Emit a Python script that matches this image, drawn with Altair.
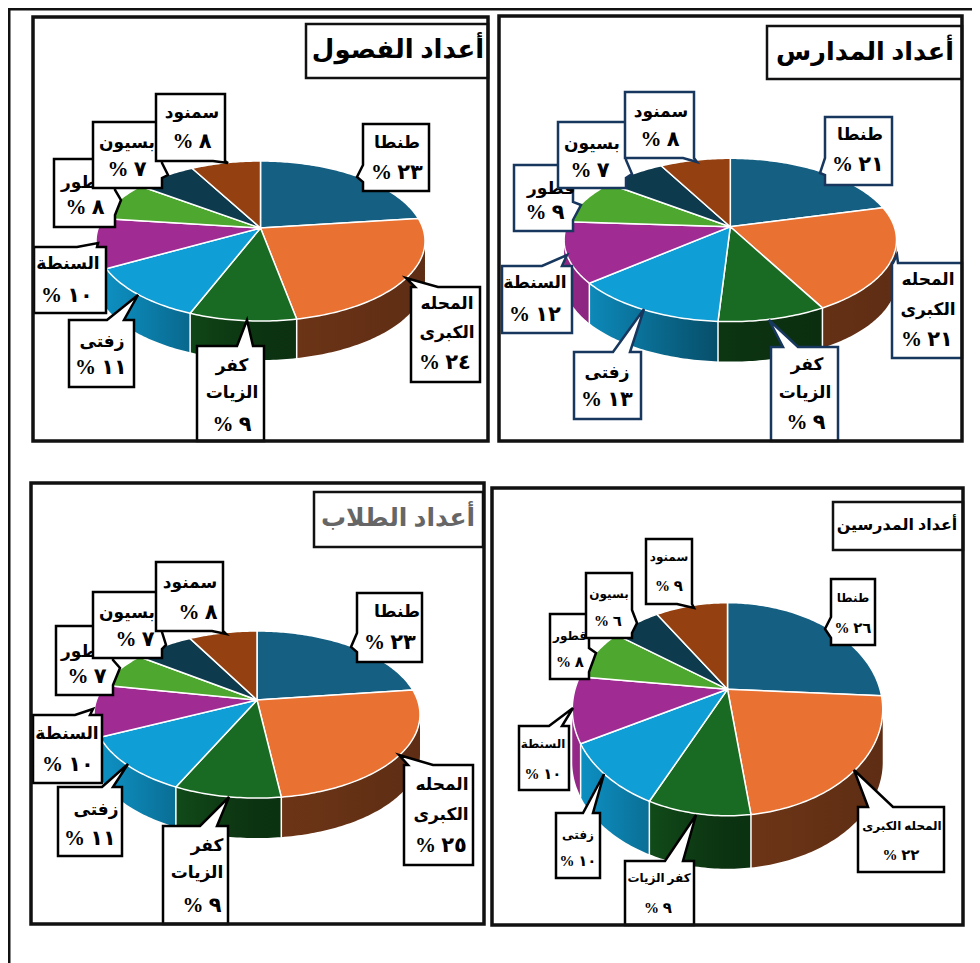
import math
import numpy as np
import pandas as pd
import altair as alt

# ---- values ----
CITIES = ["طنطا", "المحله الكبرى", "كفر الزيات", "زفتى", "السنطة", "قطور", "بسيون", "سمنود"]
CLASSES = [23, 24, 9, 11, 10, 8, 7, 8]
SCHOOLS = [21, 21, 9, 13, 12, 9, 7, 8]
STUDENTS = [23, 25, 9, 11, 10, 7, 7, 8]
TEACHERS = [26, 22, 9, 10, 10, 8, 6, 9]
TITLES = ["أعداد الفصول", "أعداد المدارس", "أعداد الطلاب", "أعداد المدرسين"]
COLORS = ["#156082", "#E97132", "#196B24", "#0F9ED5", "#A02B93", "#4EA72E", "#0E3A4E", "#954010"]

# ---- layout (page pixels) ----
FONT = "Liberation Serif, DejaVu Sans"
W, H = 964, 955
XS = alt.Scale(domain=[8, 8 + W], range=[0, W])
YS = alt.Scale(domain=[8, 8 + H], range=[0, H])

PAINT = [0, 1, 2, 3, 4, 5, 6, 7]

# box=(x0,y0,x1,y1), side of pointer, base a..b along that side, tip, text centres
PANELS = [
    dict(values=CLASSES, title=TITLES[0], frame=(33, 17, 488, 441), cx=260.5, cy=228, A=162.3, B=77.9, k=.1625, d=39,
         tbox=(306, 24, 488, 78), tpos=(398, 50), tsize=26, tcolor="#000000", lcolor="#000000", fs=17, nfs=21,
         merge=False,
         call=[
             ((363, 124, 429, 191), "l", 165, 182, (357, 177), [(397, 143), (397, 173)]),
             ((411, 287, 480, 382), "t", 415, 438, (406, 278), [(447, 304), (447, 333), (445, 363)]),
             ((197, 346, 264, 441), "t", 237, 253, (247, 320), [(232, 366), (232, 393), (232, 425)]),
             ((69, 320, 134, 387), "t", 107, 124, (138, 295), [(102, 342), (101, 368)]),
             ((34, 247, 106, 313), "t", 77, 97, (98, 243), [(68, 264), (67, 296)]),
             ((54, 159, 115, 227), "r", 190, 215, (121, 200), [(85, 183), (85, 208)]),
             ((93, 122, 162, 188), "r", 163, 178, (168, 175), [(127, 143), (127, 170)]),
             ((156, 94, 225, 161), "b", 213, 225, (228, 163), [(192, 113), (192, 142)]),
         ]),
    dict(values=SCHOOLS, title=TITLES[1], frame=(499, 16, 962, 441), cx=730.3, cy=226.7, A=164, B=79.5, k=.1625, d=40,
         tbox=(767, 26, 962, 79), tpos=(865, 52), tsize=25.5, tcolor="#000000", lcolor="#17375E", fs=17, nfs=21,
         merge=False,
         call=[
             ((825, 117, 892, 185), "l", 158, 175, (820, 173), [(860, 135), (858, 165)]),
             ((892, 263, 962, 358), "t", 893, 898, (897, 255), [(928, 280), (928, 310), (927, 340)]),
             ((771, 347, 838, 441), "t", 783, 798, (769, 320), [(807, 365), (805, 393), (806, 423)]),
             ((574, 352, 641, 419), "t", 613, 630, (644, 309), [(607, 373), (607, 400)]),
             ((502, 266, 572, 333), "t", 542, 562, (567, 255), [(535, 283), (535, 315)]),
             ((514, 165, 573, 231), "r", 202, 220, (581, 205), [(551, 189), (545, 213)]),
             ((558, 122, 626, 188), "r", 160, 178, (632, 174), [(592, 144), (590, 171)]),
             ((625, 92, 694, 158), "b", 683, 694, (697, 162), [(661, 112), (660, 140)]),
         ]),
    dict(values=STUDENTS, title=TITLES[2], frame=(31, 483, 484, 924), cx=257, cy=700, A=160.5, B=81, k=.174, d=40,
         tbox=(314, 492, 483, 547), tpos=(398, 518), tsize=25, tcolor="#666666", lcolor="#000000", fs=17, nfs=21,
         merge=False,
         call=[
             ((357, 593, 422, 662), "l", 633, 652, (351, 647), [(397, 612), (390, 643)]),
             ((404, 765, 473, 865), "t", 408, 433, (399, 755), [(442, 785), (441, 815), (441, 846)]),
             ((163, 826, 228, 924), "t", 200, 217, (229, 797), [(207, 846), (197, 873), (202, 906)]),
             ((58, 787, 122, 856), "t", 102, 113, (128, 764), [(96, 810), (90, 839)]),
             ((33, 715, 102, 783), "t", 75, 90, (93, 709), [(67, 734), (68, 765)]),
             ((56, 626, 113, 695), "r", 660, 685, (120, 668), [(85, 652), (87, 677)]),
             ((93, 592, 162, 658), "r", 632, 649, (166, 645), [(127, 613), (135, 640)]),
             ((156, 562, 223, 631), "b", 212, 223, (226, 634), [(190, 583), (198, 613)]),
         ]),
    dict(values=TEACHERS, title=TITLES[3], frame=(492, 488, 963, 925), cx=727.5, cy=689.3, A=152.5, B=102.8, k=.187, d=53,
         tbox=(833, 502, 963, 550), tpos=(897, 525), tsize=16, tcolor="#000000", lcolor="#000000", fs=12, nfs=15,
         merge=True,
         call=[
             ((831, 579, 875, 645), "l", 617, 638, (825, 629), [(853, 598), (853, 628)]),
             ((858, 807, 944, 872), "t", 868, 893, (854, 770), [(902, 826), (901, 855)]),
             ((625, 861, 694, 925), "t", 665, 683, (696, 815), [(659, 878), (658, 908)]),
             ((556, 813, 600, 878), "t", 583, 593, (604, 774), [(578, 835), (578, 861)]),
             ((519, 726, 569, 790), "t", 549, 562, (573, 708), [(543, 744), (543, 774)]),
             ((550, 614, 589, 679), "r", 648, 672, (596, 653), [(570, 636), (570, 662)]),
             ((586, 573, 632, 638), "r", 610, 633, (637, 623), [(609, 594), (608, 621)]),
             ((646, 539, 692, 604), "b", 677, 692, (694, 608), [(669, 557), (669, 586)]),
         ]),
]

AR_DIGITS = str.maketrans("0123456789", "٠١٢٣٤٥٦٧٨٩")
SPLIT = {1: ["المحله", "الكبرى"], 2: ["كفر", "الزيات"]}
SHADE_T = [-1.05, -.8, -.5, -.2, 0, 1.05]
SHADE_F = [.95, .85, .7, .55, .48, .4]


def shade(hex_color, f):
    r, g, b = (int(hex_color[i:i + 2], 16) for i in (1, 3, 5))
    return "#%02x%02x%02x" % (int(r * f), int(g * f), int(b * f))


def project(p, deg):
    th = math.radians(deg)
    u, v = math.sin(th), math.cos(th)
    w = 1 + p["k"] * v
    return p["cx"] + p["A"] * u / w, p["cy"] - p["B"] * v / w


def poly_layer(rows, width, join="miter"):
    df = pd.DataFrame(rows, columns=["id", "ord", "x", "y", "fill", "stroke"])
    return alt.Chart(df).mark_line(strokeWidth=width, strokeJoin=join, strokeCap="square").encode(
        x=alt.X("x:Q", scale=XS, axis=None),
        y=alt.Y("y:Q", scale=YS, axis=None),
        order=alt.Order("ord:Q"),
        detail="id:N",
        fill=alt.Fill("fill:N", scale=None),
        stroke=alt.Stroke("stroke:N", scale=None),
    )


def gradient_wall(pts, base, cx, half):
    """One slice's visible side wall, shaded left to right."""
    pts = list(pts) + [pts[0]]
    df = pd.DataFrame(pts, columns=["x", "y"]).assign(ord=range(len(pts)))
    xmin, xmax = min(q[0] for q in pts), max(q[0] for q in pts)
    stops = []
    for off in (0, .25, .5, .75, 1):
        tt = (xmin + (xmax - xmin) * off - cx) / half
        stops.append(alt.GradientStop(offset=off, color=shade(base, float(np.interp(tt, SHADE_T, SHADE_F)))))
    grad = alt.LinearGradient(gradient="linear", stops=stops, x1=0, x2=1, y1=0, y2=0)
    return alt.Chart(df).mark_line(fill=grad, strokeWidth=0).encode(
        x=alt.X("x:Q", scale=XS, axis=None),
        y=alt.Y("y:Q", scale=YS, axis=None),
        order=alt.Order("ord:Q"),
    )


def closed(pid, pts, fill, stroke):
    pts = list(pts) + [pts[0]]
    return [(pid, i, x, y, fill, stroke) for i, (x, y) in enumerate(pts)]


def text_layer(rows, size, weight="bold"):
    df = pd.DataFrame(rows, columns=["x", "y", "text", "color"])
    return alt.Chart(df).mark_text(font=FONT, fontWeight=weight, fontSize=size, baseline="middle", align="center").encode(
        x=alt.X("x:Q", scale=XS, axis=None),
        y=alt.Y("y:Q", scale=YS, axis=None),
        text="text:N",
        color=alt.Color("color:N", scale=None),
    )


def callout_pts(box, side, a, b, tip):
    x0, y0, x1, y1 = box
    if side == "t":
        return [(x0, y0), (a, y0), tip, (b, y0), (x1, y0), (x1, y1), (x0, y1)]
    if side == "r":
        return [(x0, y0), (x1, y0), (x1, a), tip, (x1, b), (x1, y1), (x0, y1)]
    if side == "b":
        return [(x0, y0), (x1, y0), (x1, y1), (b, y1), tip, (a, y1), (x0, y1)]
    return [(x0, y0), (x1, y0), (x1, y1), (x0, y1), (x0, b), tip, (x0, a)]


layers = []
# outer page rules
layers.append(poly_layer([("a", 0, 9, 9, "transparent", "#111111"), ("a", 1, 9, 8 + H, "transparent", "#111111"),
                          ("b", 0, 9, 9, "transparent", "#111111"), ("b", 1, 8 + W, 9, "transparent", "#111111")], 3))

for pi, p in enumerate(PANELS):
    vals = p["values"]
    total = sum(vals)
    edges = np.cumsum([0] + vals) / total * 360
    top, seams = [], []
    half = p["A"] * 1.013
    for si in range(len(vals)):
        a0, a1 = edges[si], edges[si + 1]
        n = max(4, int(a1 - a0))
        angs = [a0 + (a1 - a0) * i / n for i in range(n + 1)]
        arc = [project(p, a) for a in angs]
        near = []
        for j in range(n):
            if arc[j + 1][0] < arc[j][0]:  # outline runs leftwards on the near half only
                if not near:
                    near.append(arc[j])
                near.append(arc[j + 1])
        if near:
            layers.append(gradient_wall(near + [(x, y + p["d"]) for x, y in reversed(near)], COLORS[si], p["cx"], half))
        top += closed(f"s{si}", [(p["cx"], p["cy"])] + arc, COLORS[si], "#ffffff")
        xe, ye = arc[0]
        xp, yp = project(p, a0 + 1)
        if xp < xe:
            seams += [(f"e{si}", 0, xe, ye, "transparent", "#ffffff"),
                      (f"e{si}", 1, xe, ye + p["d"], "transparent", "#ffffff")]
    layers.append(poly_layer(seams, 1.5))
    layers.append(poly_layer(top, 1.5, "round"))

    # callouts
    for ci in PAINT:
        box, side, a, b, tip, pos = p["call"][ci]
        layers.append(poly_layer(closed(f"c{ci}", callout_pts(box, side, a, b, tip), "#ffffff", p["lcolor"]), 2.5))
        name = [CITIES[ci]] if (p["merge"] or ci not in SPLIT) else SPLIT[ci]
        pct = "% " + str(vals[ci]).translate(AR_DIGITS)
        layers.append(text_layer([(x, y, t, "#000000") for (x, y), t in zip(pos, name)], p["fs"]))
        layers.append(text_layer([(pos[-1][0], pos[-1][1], pct, "#000000")], p["nfs"]))

    # title box and frame
    x0, y0, x1, y1 = p["tbox"]
    layers.append(poly_layer(closed("t", [(x0, y0), (x1, y0), (x1, y1), (x0, y1)], "#ffffff", "#111111"), 2.5))
    layers.append(text_layer([(p["tpos"][0], p["tpos"][1], p["title"], p["tcolor"])], p["tsize"]))
    x0, y0, x1, y1 = p["frame"]
    layers.append(poly_layer(closed("f", [(x0, y0), (x1, y0), (x1, y1), (x0, y1)], "transparent", "#111111"), 3.5))

chart = alt.layer(*layers).properties(
    width=W, height=H, padding=0, background="#ffffff",
    autosize=alt.AutoSizeParams(type="none"),
).configure_view(strokeWidth=0)
chart.save("out.html", embed_options={"renderer": "svg", "actions": False})
